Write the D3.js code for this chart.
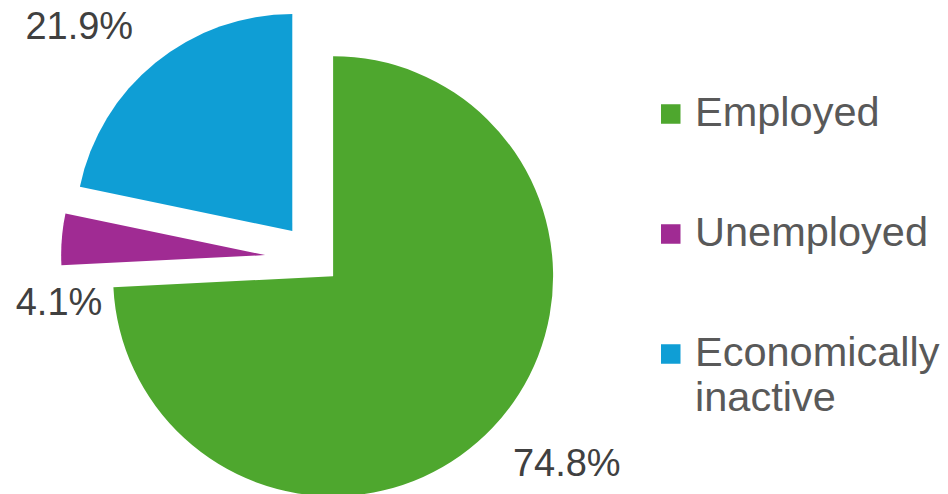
<!DOCTYPE html>
<html>
<head>
<meta charset="utf-8">
<script src="https://cdn.jsdelivr.net/npm/d3@7"></script>
<style>
  body { margin: 0; background: #fff; }
  svg { display: block; }
</style>
</head>
<body>
<script>
// data
var categories = ["Employed", "Unemployed", "Economically inactive"];
var values = [74.8, 4.1, 21.9];
var labelTexts = ["74.8%", "4.1%", "21.9%"];
var colors = ["#4EA72E", "#A02B93", "#0F9ED5"];

var width = 948, height = 494;
var cx = 315, cy = 259;

// per-slice styling: explode distance, radius, label polar placement
var explode = [25, 50, 36];
var radius = [220, 204, 217];
var labelAngle = [129.0, 260.6, 314.76];
var labelDist = [324, 259.5, 332];

var svg = d3.select("body").append("svg")
    .attr("width", width)
    .attr("height", height);

var pie = d3.pie().sort(null).startAngle(0).endAngle(2 * Math.PI);
var slices = pie(values);

var pie_g = svg.append("g")
    .attr("transform", "translate(" + cx + "," + cy + ")");

// draw the exploded slices
pie_g.selectAll("path").data(slices).enter().append("path")
    .attr("d", function (d, i) {
        return d3.arc().innerRadius(0).outerRadius(radius[i])(d);
    })
    .attr("transform", function (d, i) {
        var mid = (d.startAngle + d.endAngle) / 2;
        return "translate(" + (explode[i] * Math.sin(mid)) + "," + (-explode[i] * Math.cos(mid)) + ")";
    })
    .attr("fill", function (d, i) { return colors[i]; });

// data labels
pie_g.selectAll("text").data(slices).enter().append("text")
    .text(function (d, i) { return labelTexts[i]; })
    .attr("x", function (d, i) { return labelDist[i] * Math.sin(labelAngle[i] * Math.PI / 180); })
    .attr("y", function (d, i) { return -labelDist[i] * Math.cos(labelAngle[i] * Math.PI / 180); })
    .attr("dy", "0.35em")
    .attr("text-anchor", "middle")
    .attr("font-family", "'Liberation Sans', Arial, sans-serif")
    .attr("font-size", "38px")
    .attr("fill", "#404040");

// legend
var legend = svg.append("g")
    .attr("transform", "translate(" + 661 + "," + 114 + ")");

var rowStep = 120;
var sq = 19.5;

legend.selectAll("rect").data(categories).enter().append("rect")
    .attr("x", 0)
    .attr("y", function (d, i) { return i * rowStep - sq / 2; })
    .attr("width", sq)
    .attr("height", sq)
    .attr("fill", function (d, i) { return colors[i]; });

var legendLines = [["Employed"], ["Unemployed"], ["Economically", "inactive"]];

legend.selectAll("text").data(legendLines).enter().append("text")
    .attr("font-family", "'Liberation Sans', Arial, sans-serif")
    .attr("font-size", "41.5px")
    .attr("fill", "#595959")
    .each(function (lines, i) {
        var t = d3.select(this);
        lines.forEach(function (line, j) {
            t.append("tspan")
                .attr("x", 34)
                .attr("y", i * rowStep + 11.5 + j * 45)
                .text(line);
        });
    });
</script>
</body>
</html>
